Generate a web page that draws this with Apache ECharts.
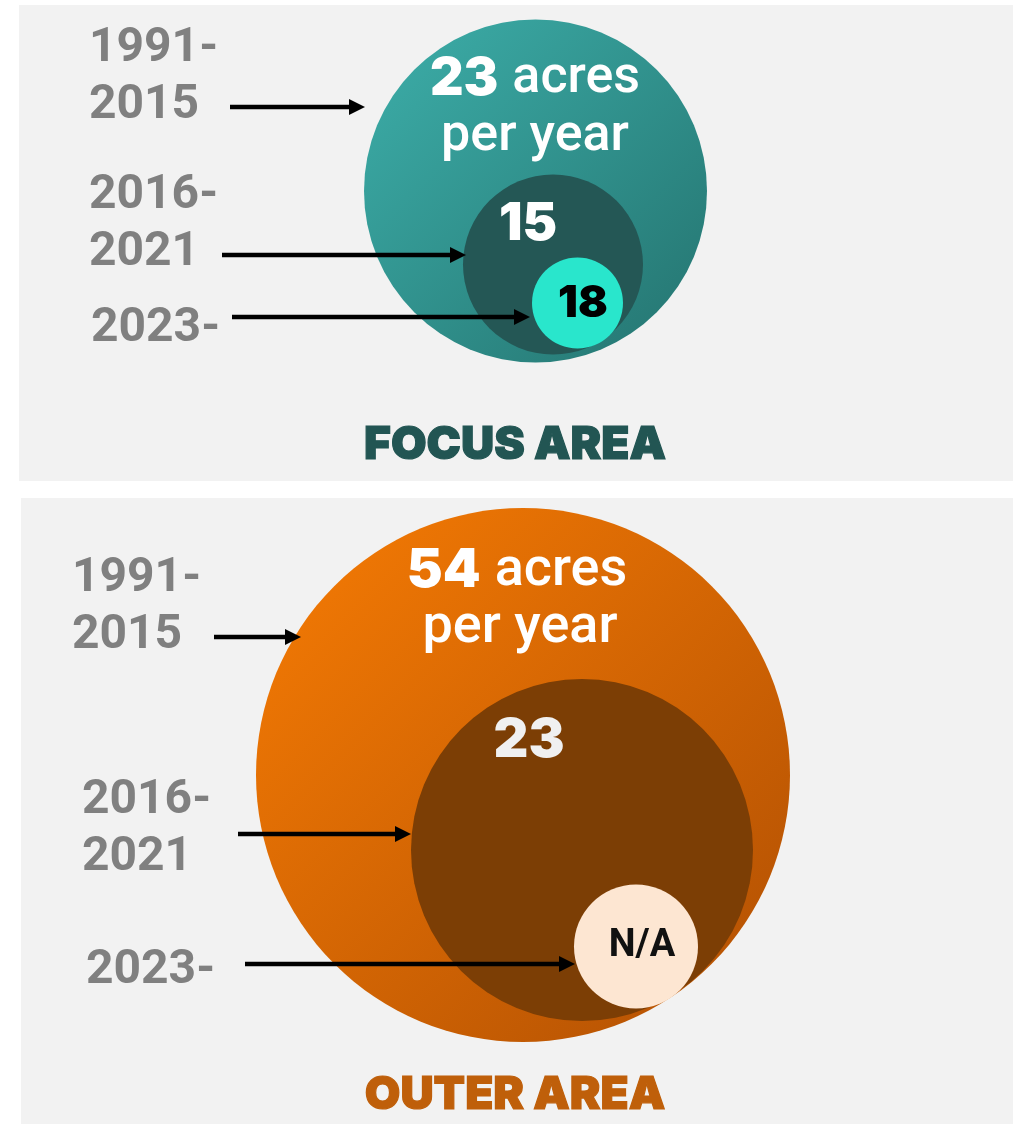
<!DOCTYPE html>
<html>
<head>
<meta charset="utf-8">
<script src="https://cdn.jsdelivr.net/npm/echarts@6/dist/echarts.min.js"></script>
<style>
html, body { margin: 0; padding: 0; background: #fff; }
#main { width: 1014px; height: 1125px; }
</style>
</head>
<body>
<div id="main"></div>
<script>
// chart data
var periods = ['1991-\n2015', '2016-\n2021', '2023-'];
var areaNames = ['FOCUS AREA', 'OUTER AREA'];
var focusRates = ['23', '15', '18'];
var outerRates = ['54', '23', 'N/A'];
var unitWords = ['acres', 'per year'];
var rates = [focusRates, outerRates];

// layout, in axis units (axes are 1:1 with pixels)
var panelBox = [[19, 5, 994, 476], [21, 498, 992, 626]];
var titlePos = [[515, 445], [515, 1095]];
var circleGeo = [
  [[535.5, 191, 171.5], [553, 264.5, 90], [577.5, 303, 45.5]],
  [[523, 775, 267], [582, 850, 171], [636, 946.5, 62]]
];
var numberPos = [
  [[535, 79, 52], [528, 224, 52], [583, 304, 44]],
  [[517, 571, 54], [529, 741, 54], [642, 946, 38]]
];
var unitLine2Pos = [[535, 137], [520, 628]];
var periodPos = [
  [[89, 48.5], [89, 195.5], [91, 328.5]],
  [[72, 578.5], [82, 800.5], [86, 970.5]]
];
var arrowPos = [
  [[230, 365, 107], [222, 466, 255], [232, 530, 317]],
  [[214, 301, 637], [238, 411, 834], [245, 575, 964]]
];

// colours
var titleColors = ['#225553', '#bf5f0a'];
var circleFills = [
  [{ type: 'linear', x: 0, y: 0, x2: 1, y2: 1, colorStops: [{ offset: 0, color: '#3dafaa' }, { offset: 1, color: '#24736f' }] }, '#245755', '#29e6cc'],
  [{ type: 'linear', x: 0, y: 0, x2: 1, y2: 1, colorStops: [{ offset: 0, color: '#f77c04' }, { offset: 1, color: '#b04f03' }] }, '#7c3e05', '#fde6d2']
];
var numberColors = [['#fff', '#fff', '#000'], ['#fff', '#f0f0f0', '#111']];

var heavy = 'Inter, Roboto, sans-serif';
var plain = 'Roboto, "Liberation Sans", sans-serif';

var pairs = [];
for (var a = 0; a < areaNames.length; a++) {
  for (var k = 0; k < periods.length; k++) pairs.push([a, k]);
}

function panelItem(params, api) {
  var i = params.dataIndex;
  var b = panelBox[i];
  var p = api.coord([b[0], b[1]]);
  var s = api.size([b[2], b[3]]);
  var t = api.coord(titlePos[i]);
  return {
    type: 'group',
    children: [
      { type: 'rect', shape: { x: p[0], y: p[1], width: s[0], height: s[1] }, style: { fill: '#f2f2f2' } },
      { type: 'text', x: t[0], y: t[1], style: {
        text: areaNames[i], fill: titleColors[i], fontFamily: heavy, fontWeight: 900, fontSize: 46,
        stroke: titleColors[i], lineWidth: 1.2,
        align: 'center', verticalAlign: 'middle' } }
    ]
  };
}

function circleItem(params, api) {
  var a = api.value(0), k = api.value(1);
  var g = circleGeo[a][k];
  var c = api.coord([g[0], g[1]]);
  var r = api.size([g[2], 0])[0];
  var np = numberPos[a][k];
  var tp = api.coord([np[0], np[1]]);
  var kids = [
    { type: 'circle', shape: { cx: c[0], cy: c[1], r: r }, style: { fill: circleFills[a][k] } }
  ];
  var val = rates[a][k];
  if (k === 0) {
    kids.push({ type: 'text', x: tp[0], y: tp[1], style: {
      text: '{b|' + val + '}{r|' + unitWords[0] + '}',
      align: 'center', verticalAlign: 'middle',
      rich: {
        b: { fill: '#fff', fontFamily: heavy, fontWeight: 900, fontSize: np[2], padding: [0, 14, 0, 0] },
        r: { fill: '#fff', fontFamily: plain, fontWeight: 500, fontSize: np[2] }
      } } });
    var l2 = api.coord(unitLine2Pos[a]);
    kids.push({ type: 'text', x: l2[0], y: l2[1], style: {
      text: unitWords[1], fill: '#fff', fontFamily: plain, fontWeight: 500, fontSize: np[2],
      align: 'center', verticalAlign: 'middle' } });
  } else {
    var isNA = val === 'N/A';
    kids.push({ type: 'text', x: tp[0], y: tp[1], style: {
      text: val, fill: numberColors[a][k],
      fontFamily: isNA ? plain : heavy,
      fontWeight: isNA ? 'bold' : 900, fontSize: np[2],
      align: 'center', verticalAlign: 'middle' } });
  }
  return { type: 'group', children: kids };
}

function periodItem(params, api) {
  var a = api.value(0), k = api.value(1);
  var lines = periods[k].split('\n');
  var pp = periodPos[a][k];
  var kids = [];
  lines.forEach(function (ln, j) {
    var p = api.coord([pp[0], pp[1] + j * 57]);
    kids.push({ type: 'text', x: p[0], y: p[1], style: {
      text: ln, fill: '#808080', fontFamily: plain, fontWeight: 'bold', fontSize: 48,
      align: 'left', verticalAlign: 'middle' } });
  });
  var ar = arrowPos[a][k];
  var s = api.coord([ar[0], ar[2]]);
  var e = api.coord([ar[1], ar[2]]);
  kids.push({ type: 'line', shape: { x1: s[0], y1: s[1], x2: e[0] - 12, y2: e[1] }, style: { stroke: '#000', lineWidth: 4.5, fill: null } });
  kids.push({ type: 'polygon', shape: { points: [[e[0], e[1]], [e[0] - 16, e[1] - 8], [e[0] - 16, e[1] + 8]] }, style: { fill: '#000' } });
  return { type: 'group', children: kids };
}

var chart = echarts.init(document.getElementById('main'));
chart.setOption({
  backgroundColor: '#fff',
  animation: false,
  grid: { left: 0, right: 0, top: 0, bottom: 0 },
  xAxis: { type: 'value', min: 0, max: 1014, show: false },
  yAxis: { type: 'value', min: 0, max: 1125, inverse: true, show: false },
  series: [
    { type: 'custom', clip: false, z: 1, silent: true, renderItem: panelItem, data: areaNames.map(function (n, i) { return [i, 0]; }) },
    { type: 'custom', clip: false, z: 2, silent: true, renderItem: circleItem, data: pairs },
    { type: 'custom', clip: false, z: 3, silent: true, renderItem: periodItem, data: pairs }
  ]
});
</script>
</body>
</html>
